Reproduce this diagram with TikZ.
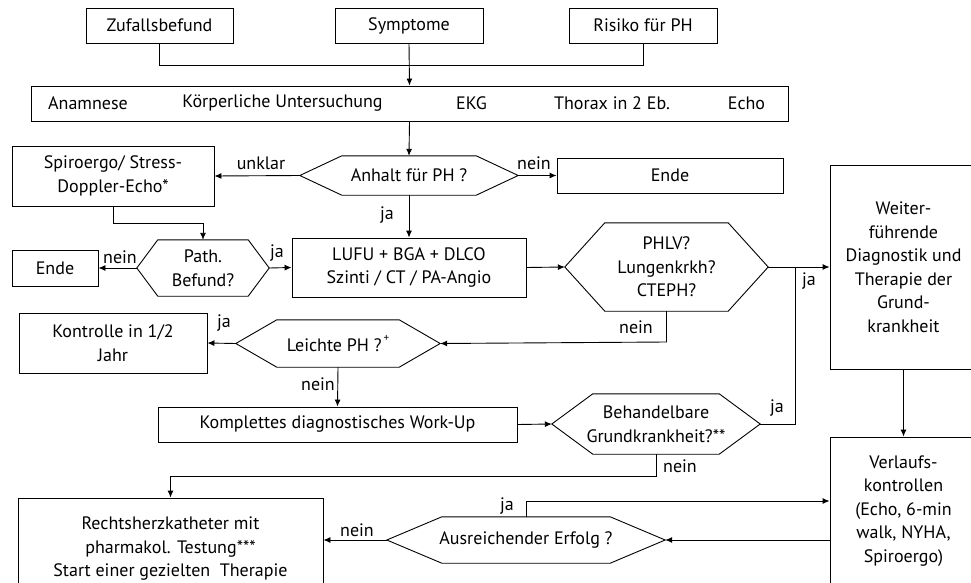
\documentclass[tikz,border=0pt]{standalone}
\usepackage{fontspec}
\setmainfont{PT Sans}
\usetikzlibrary{arrows.meta}
\newcommand\fs{\fontsize{18}{23.5}\selectfont}
\newcommand\hexdraw[2]{\draw[conn] (#1.west) -- ([xshift=#2]#1.north west) -- ([xshift=-#2]#1.north east) -- (#1.east) -- ([xshift=-#2]#1.south east) -- ([xshift=#2]#1.south west) -- cycle;}
\begin{document}
\begin{tikzpicture}[x=1pt,y=-1pt,
  box/.style={draw, line width=0.9pt, inner sep=0pt, align=center, font=\fs},
  hexn/.style={inner sep=0pt, align=center, font=\fs},
  lbl/.style={inner sep=0pt, font=\fs},
  conn/.style={line width=0.9pt},
  arr/.style={conn, -{Latex[length=7pt,width=6pt]}}]
\useasboundingbox (0,0) rectangle (971,583);
\clip (0,0) rectangle (971,583);
\fill[white] (0,0) rectangle (971,583);

% top row
\node[box, minimum width=147pt, minimum height=35pt] (zuf) at (159.5,25.5) {Zufallsbefund};
\node[box, minimum width=148pt, minimum height=35pt] (sym) at (409,25.5) {Symptome};
\node[box, minimum width=148pt, minimum height=35pt] (ris) at (643,25.5) {Risiko für PH};

\node[box, minimum width=757pt, minimum height=35pt] (anam) at (409.5,103.5) {};
\node[lbl] (t1) at (88,103.5) {Anamnese};
\node[lbl] (t2) at (282.5,103.5) {Körperliche Untersuchung};
\node[lbl] (t3) at (471.5,103.5) {EKG};
\node[lbl] (t4) at (612,103.5) {Thorax in 2 Eb.};
\node[lbl] (t5) at (746.5,103.5) {Echo};

% second level
\node[hexn, minimum width=218pt, minimum height=39pt] (anhalt) at (409,175.5) {Anhalt für PH ?};
\hexdraw{anhalt}{42pt}
\node[box, minimum width=226pt, minimum height=35pt] (endeR) at (670,175.5) {Ende};
\node[box, minimum width=202pt, minimum height=60pt] (spiro) at (113,176) {Spiroergo/ Stress-\\Doppler-Echo*};

% third level
\node[hexn, minimum width=132pt, minimum height=56pt] (path) at (203,268) {Path.\\Befund?};
\hexdraw{path}{21pt}
\node[box, minimum width=86pt, minimum height=36pt] (endeL) at (55,268) {Ende};
\node[box, minimum width=234pt, minimum height=59pt] (lufu) at (409,267.5) {LUFU + BGA + DLCO\\Szinti / CT / PA-Angio};
\node[hexn, minimum width=203pt, minimum height=88pt] (phlv) at (666.5,267) {PHLV?\\Lungenkrkh?\\CTEPH?};
\hexdraw{phlv}{40pt}
\node[box, minimum width=147pt, minimum height=204pt] (weiter) at (903.5,267) {Weiter-\\führende\\Diagnostik und\\Therapie der\\Grund-\\krankheit};

% fourth level
\node[hexn, minimum width=204pt, minimum height=47pt] (leicht) at (338,343.5) {Leichte PH ?\raisebox{1.2ex}{\fontsize{11}{11}\selectfont\,+}};
\hexdraw{leicht}{41pt}
\node[box, minimum width=188pt, minimum height=60pt] (kontr) at (113,343) {Kontrolle in 1/2\\Jahr};

\node[box, minimum width=359pt, minimum height=35pt] (kompl) at (337.5,424.5) {Komplettes diagnostisches Work-Up};
\node[hexn, minimum width=208pt, minimum height=60pt] (behand) at (656,424) {Behandelbare\\Grundkrankheit?**};
\hexdraw{behand}{41pt}

% bottom
\node[box, minimum width=305pt, minimum height=102pt] (rechts) at (170.5,549) {Rechtsherzkatheter mit\\pharmakol. Testung***\\Start einer gezielten\ \ Therapie};
\node[hexn, minimum width=278pt, minimum height=46pt] (ausr) at (526,540) {Ausreichender Erfolg ?};
\hexdraw{ausr}{55pt}
\node[box, minimum width=147pt, minimum height=148pt] (verl) at (903.5,511) {Verlaufs-\\kontrollen\\(Echo, 6-min\\walk, NYHA,\\Spiroergo)};

% connectors
\coordinate (c1) at (159.5,65);
\draw[conn] (zuf.south) -- (c1) -| (ris.south);
\draw[arr] (sym.south) -- (anam.north);
\draw[arr] (anam.south) -- (anhalt.north);
\draw[arr] (anhalt.west) -- (spiro.east);
\draw[arr] (anhalt.east) -- (endeR.west);
\coordinate (c2) at (113,223);
\draw[arr] (spiro.south) -- (c2) -| (path.north);
\draw[arr] (path.west) -- (endeL.east);
\draw[arr] (path.east) -- (lufu.west);
\draw[arr] (anhalt.south) -- (lufu.north);
\draw[arr] (lufu.east) -- (phlv.west);
\draw[arr] (phlv.east) -- (weiter.west);
\coordinate (c3) at (795,424);
\coordinate (c4) at (795,267);
\draw[conn] (behand.east) -- (c3) -- (c4);
\coordinate (c5) at (666.5,342);
\draw[arr] (phlv.south) -- (c5) -- (leicht.east);
\draw[arr] (leicht.west) -- (kontr.east);
\draw[arr] (leicht.south) -- (kompl.north);
\draw[arr] (kompl.east) -- (behand.west);
\coordinate (c6) at (656,476);
\draw[arr] (behand.south) -- (c6) -| (rechts.north);
\draw[arr] (ausr.west) -- (ausr.west -| rechts.east);
\coordinate (c7) at (526,501);
\draw[arr] (ausr.north) -- (c7) -- (c7 -| verl.west);
\coordinate (c9) at (830,540);
\draw[arr] (c9) -- (ausr.east);
\draw[arr] (weiter.south) -- (verl.north);

% labels
\node[lbl] (l1) at (261,163) {unklar};
\node[lbl] (l2) at (534,163) {nein};
\node[lbl] (l3) at (120,257) {nein};
\node[lbl] (l4) at (277,253) {ja};
\node[lbl] (l5) at (387,215) {ja};
\node[lbl] (l6) at (809,281) {ja};
\node[lbl] (l7) at (636,327) {nein};
\node[lbl] (l8) at (224,323) {ja};
\node[lbl] (l9) at (318,384) {nein};
\node[lbl] (l10) at (777,408) {ja};
\node[lbl] (l11) at (680,466) {nein};
\node[lbl] (l12) at (357,530) {nein};
\node[lbl] (l13) at (507,506) {ja};
\end{tikzpicture}
\end{document}
